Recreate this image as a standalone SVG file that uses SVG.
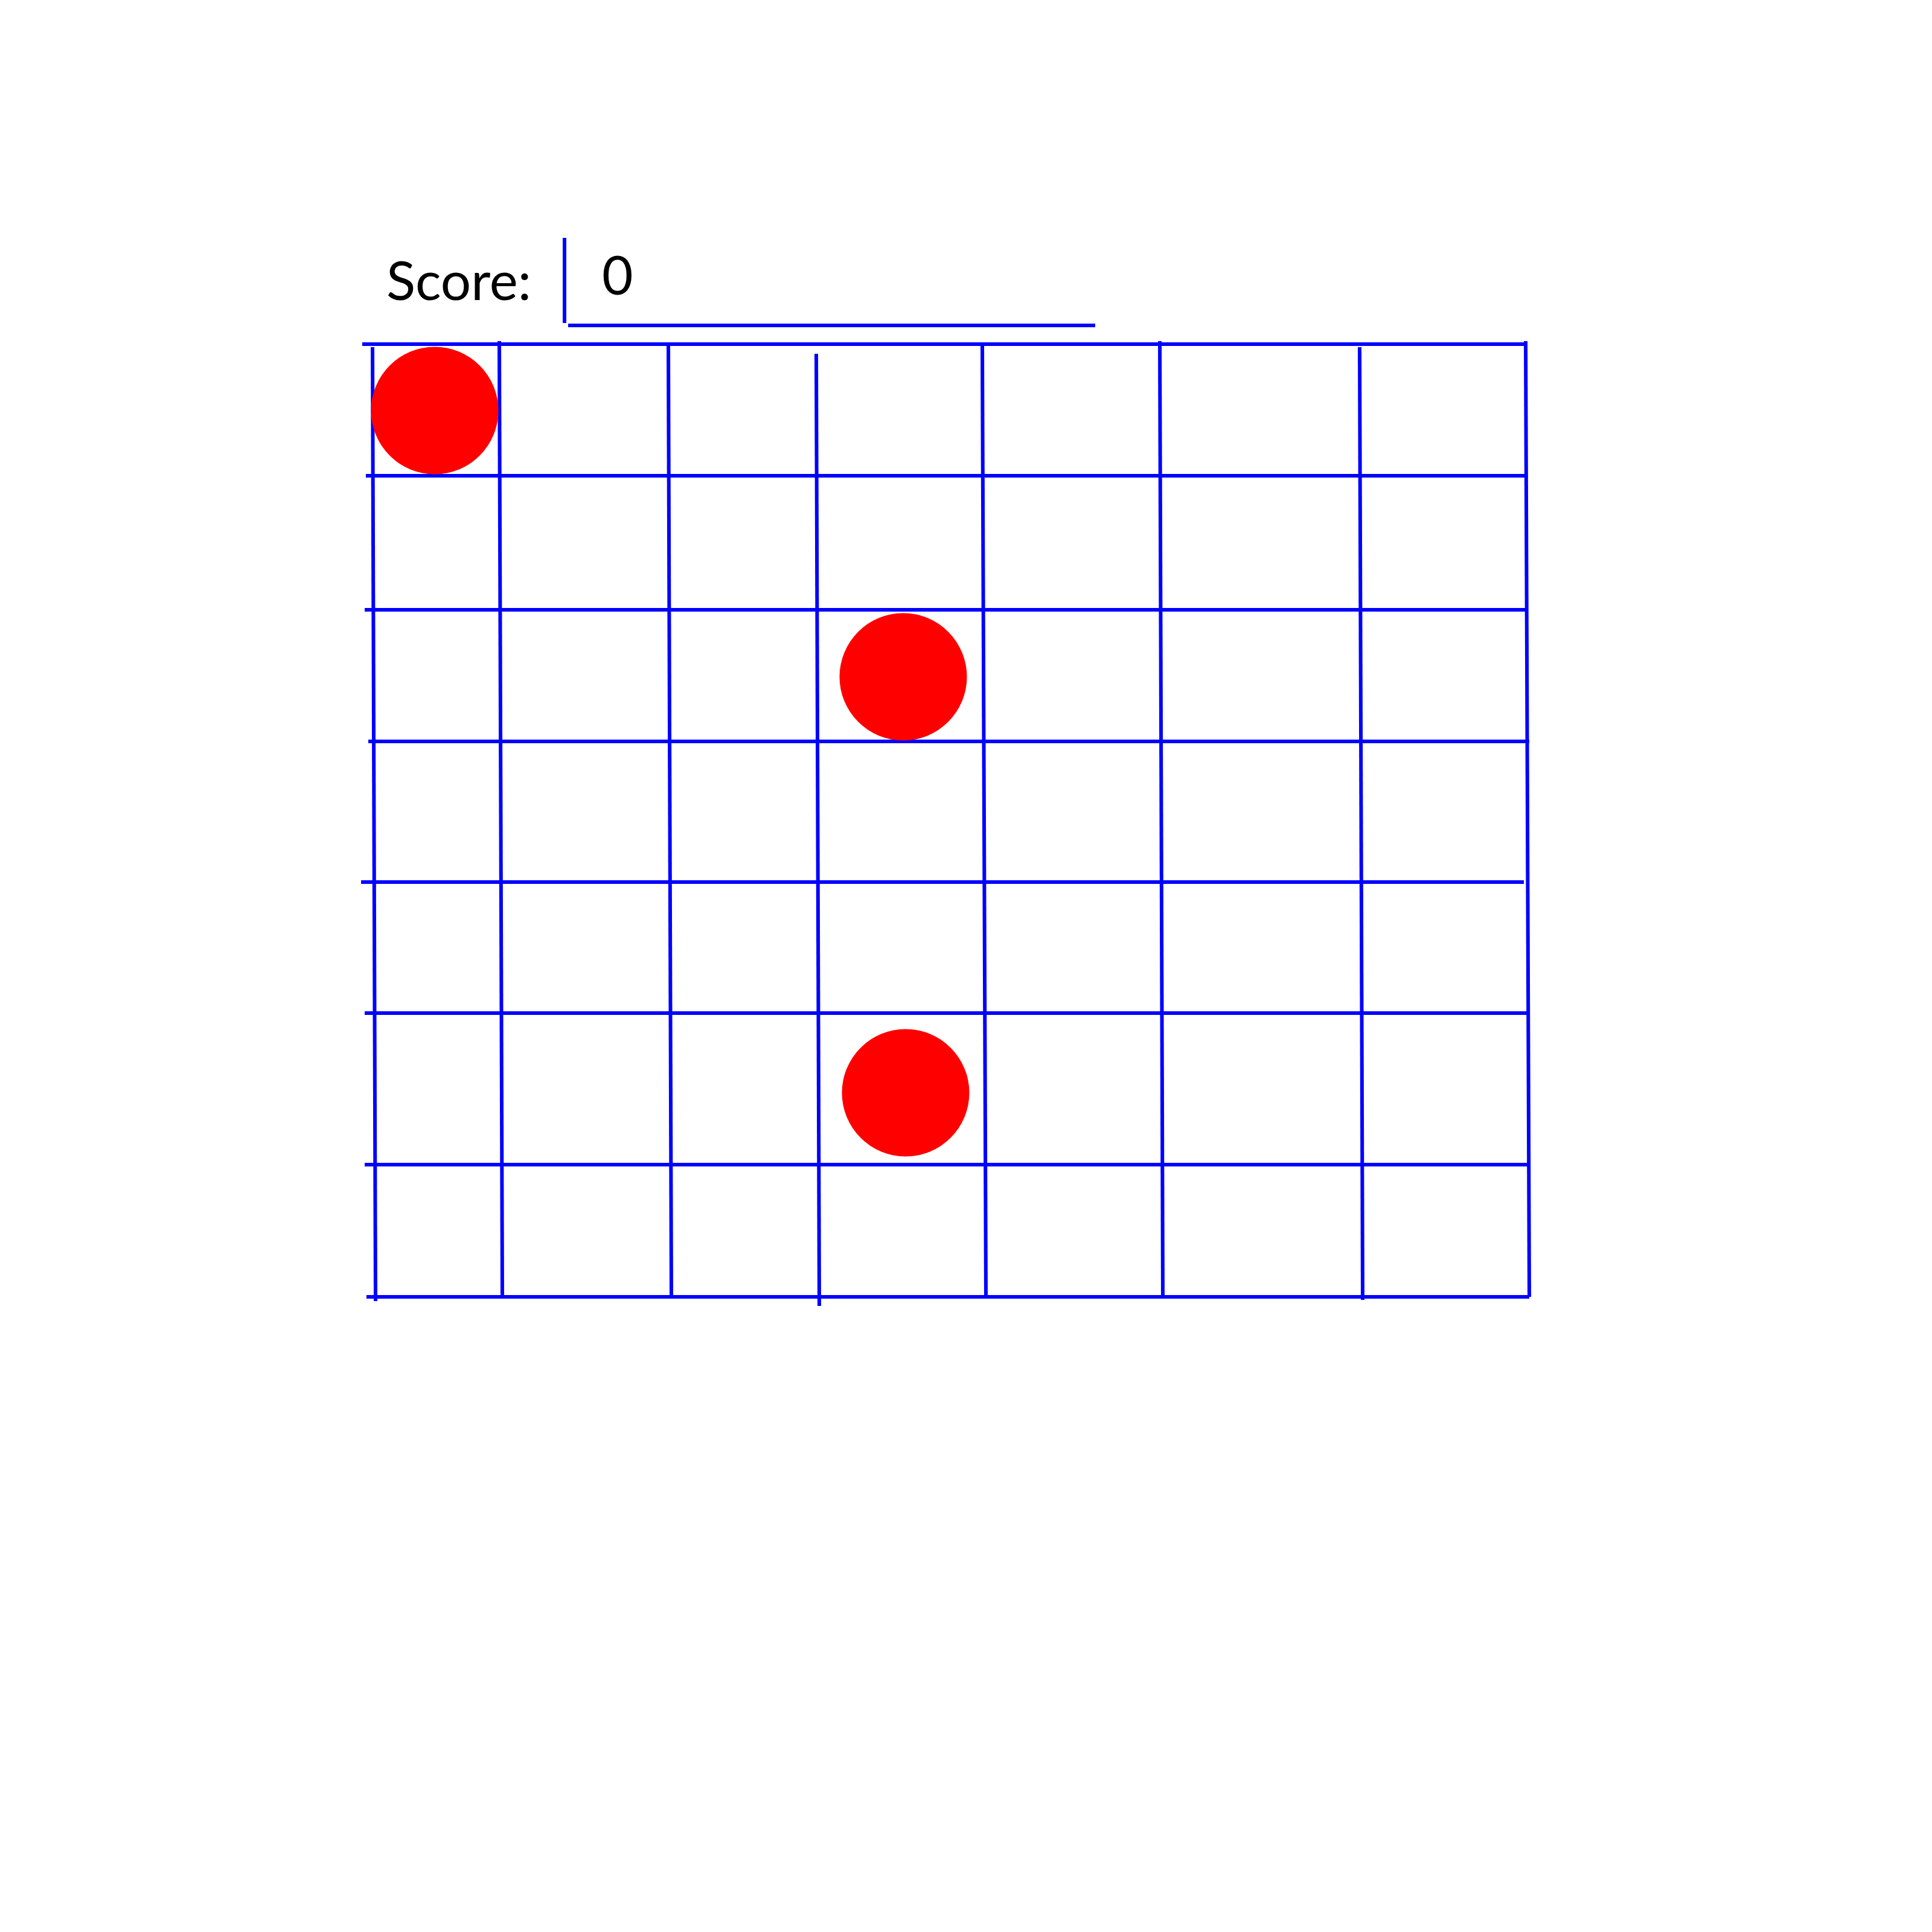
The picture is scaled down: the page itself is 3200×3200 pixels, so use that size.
<svg xmlns="http://www.w3.org/2000/svg" width="3200" height="3200" viewBox="0 0 3200 3200">
<style>
.g{stroke:#0000FF;stroke-width:6;fill:none}
.dot{fill:#FF0000}
.t{font-family:Lato,"Open Sans",sans-serif;font-size:89px;fill:#000}
</style>
<rect width="3200" height="3200" fill="#fff"/>
<g id="score">
<text class="t" x="640" y="497">Score:</text>
<text class="t" x="997" y="488">0</text>
<line class="g" x1="935" y1="394" x2="935" y2="535"/>
<line class="g" x1="941" y1="539" x2="1814" y2="539"/>
</g>
<g id="grid">
<line class="g" x1="600" y1="570" x2="2528" y2="570"/>
<line class="g" x1="606" y1="788" x2="2528" y2="788"/>
<line class="g" x1="604" y1="1010" x2="2531" y2="1010"/>
<line class="g" x1="610" y1="1228" x2="2533" y2="1228"/>
<line class="g" x1="598" y1="1461" x2="2524" y2="1461"/>
<line class="g" x1="604" y1="1678" x2="2533" y2="1678"/>
<line class="g" x1="604" y1="1929" x2="2533" y2="1929"/>
<line class="g" x1="607" y1="2148" x2="2533" y2="2148"/>
<line class="g" x1="617" y1="575" x2="622" y2="2155"/>
<line class="g" x1="827" y1="565" x2="832" y2="2148"/>
<line class="g" x1="1107" y1="571" x2="1112" y2="2148"/>
<line class="g" x1="1352" y1="586" x2="1357" y2="2163"/>
<line class="g" x1="1627" y1="571" x2="1633" y2="2148"/>
<line class="g" x1="1921" y1="565" x2="1926" y2="2148"/>
<line class="g" x1="2252" y1="575" x2="2257" y2="2153"/>
<line class="g" x1="2527" y1="565" x2="2533" y2="2148"/>
</g>
<g id="dots">
<circle class="dot" cx="720" cy="680" r="105.5"/>
<circle class="dot" cx="1496" cy="1121" r="105.5"/>
<circle class="dot" cx="1500" cy="1810" r="105.5"/>
</g>
</svg>
